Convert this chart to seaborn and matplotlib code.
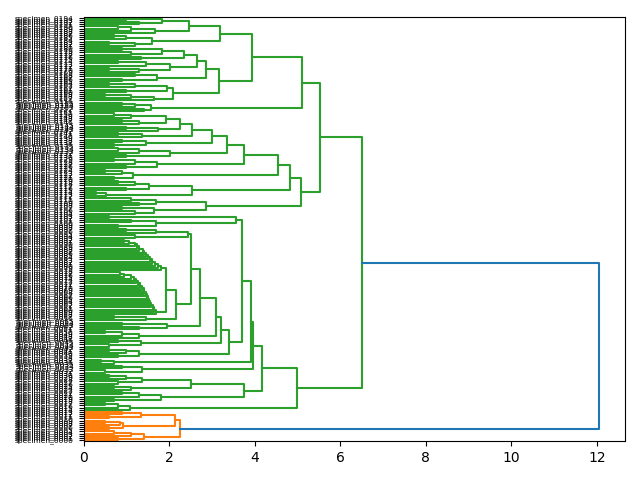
import matplotlib
matplotlib.use("Agg")
import matplotlib.pyplot as plt
import pandas as pd
import seaborn as sns

# ---------------- data ----------------
# A nested node is (merge_height, upper_child, lower_child).
# A list is a small leaf-level cluster: successive merge heights of a chain
# (len(list) + 1 leaves; [] is a single leaf).
ROOT_HEIGHT = 12.05
GREEN_HEIGHT = 6.50
GREEN_UPPER_HEIGHT = 5.52

STAIR1 = [0.95, 1.05, 1.2, 1.25, 1.3, 1.38, 1.42, 1.47, 1.5, 1.55, 1.6, 1.68, 1.75, 1.82]
STAIR2 = [0.85, 0.95, 1.1, 1.18, 1.22, 1.28, 1.32, 1.36, 1.4, 1.42, 1.45, 1.48, 1.5,
          1.53, 1.56, 1.58, 1.62, 1.65, 1.7]

A1 = (5.11,
      (3.94,
       (3.18,
        (2.46, (1.84, [1.0], [1.3]), (1.66, [0.8, 1.1], [])),
        (1.60, [0.7, 1.0], [0.6, 1.2])),
       (3.16,
        (2.87,
         (2.66,
          (2.35, (1.83, [0.9], [1.1]), [1.35]),
          (2.01, [0.8, 1.45], [0.6, 1.3])),
         (1.71, [1.2], [0.9])),
        (2.10, (1.96, [0.6, 1.2], [1.0]), (1.64, [0.5, 1.1], [])))),
      (1.58, [0.9, 1.2], [1.4]))

A2 = (5.09,
      (4.82,
       (4.55,
        (3.75,
         (3.34,
          (3.00,
           (2.53,
            (2.25, (1.92, [0.7, 1.1], [0.9, 1.3]), (1.74, [1.0], [])),
            [0.8, 1.37]),
           (1.46, [0.9], [0.7])),
          (2.01, [0.8, 1.3], [1.0])),
         (1.71, [0.7, 1.2], [1.0])),
        (1.15, [0.5, 0.9], [0.7])),
       (2.53, (1.54, [0.8, 1.2], [1.0]), [0.3, 0.53])),
      (2.85, (1.70, [1.1], [1.3]), (1.64, [0.9], [1.2])))

B = (4.98,
     (4.17,
      (3.96,
       (3.92,
        (3.70,
         (3.57, [0.6], (1.70, [1.1], [0.8])),
         (3.40,
          (3.22,
           (3.10,
            (2.71,
             (2.52,
              (2.44, [1.0, 1.7], [1.2]),
              (2.17, (1.92, STAIR1, STAIR2), (1.45, [0.7], []))),
             (1.95, [0.9], [1.3])),
            [0.5, 0.9, 1.3]),
           (1.35, [0.8], [0.6])),
          (1.30, [0.6, 1.0], [0.8]))),
        [0.4, 0.7]),
       (1.37, [0.9], [0.5])),
      (3.75, (2.50, (1.36, [0.6, 1.0], [0.8]), [0.7, 1.1]), (1.82, [0.9, 1.3], [0.7]))),
     (1.08, [0.5, 0.8], []))

ORANGE = (2.25,
          (2.13, (1.33, [0.9], [0.6]), (0.92, (0.84, [0.5], []), [0.6])),
          (1.41, [0.7, 1.1], [0.8]))

LABEL_PREFIX = "specimen_"
PALETTE = {"above": "#1f77b4", "orange": "#ff7f0e", "green": "#2ca02c"}

# ---------------- layout (scipy-style: leaves at 5, 15, 25, ...) ----------------
rows = []
leaf_y = []
link_id = [0]


def add_link(xs, ys, group):
    for x, y in zip(xs, ys):
        rows.append({"link": link_id[0], "x": x, "y": y, "group": group})
    link_id[0] += 1


def new_leaf():
    y = 5 + 10 * len(leaf_y)
    leaf_y.append(y)
    return y


def layout(tree, group):
    if isinstance(tree, list):
        cy, ch = new_leaf(), 0.0
        for h in tree:
            ny = new_leaf()
            add_link([ch, h, h, 0.0], [cy, cy, ny, ny], group)
            cy, ch = (cy + ny) / 2, h
        return cy, ch
    h, a, b = tree
    ya, ha = layout(a, group)
    yb, hb = layout(b, group)
    add_link([ha, h, h, hb], [ya, ya, yb, yb], group)
    return (ya + yb) / 2, h


green_tree = (GREEN_HEIGHT, (GREEN_UPPER_HEIGHT, A1, A2), B)
yg, hg = layout(green_tree, "green")
yo, ho = layout(ORANGE, "orange")
add_link([hg, ROOT_HEIGHT, ROOT_HEIGHT, ho], [yg, yg, yo, yo], "above")

df = pd.DataFrame(rows)
n = len(leaf_y)
labels = [f"{LABEL_PREFIX}{n - 1 - i:04d}" for i in range(n)]

# ---------------- drawing ----------------
fig, ax = plt.subplots(figsize=(6.4, 4.8), dpi=100)
sns.lineplot(data=df, x="x", y="y", units="link", hue="group", palette=PALETTE,
             estimator=None, sort=False, legend=False, linewidth=1.5, ax=ax)
ax.set_xlabel("")
ax.set_ylabel("")
ax.set_yticks(leaf_y)
ax.set_yticklabels(labels, fontsize=5.4)
ax.set_xlim(0, ROOT_HEIGHT * 1.05)
ax.set_ylim(10 * n, 0)
fig.tight_layout()
fig.savefig("out.png", dpi=100)
